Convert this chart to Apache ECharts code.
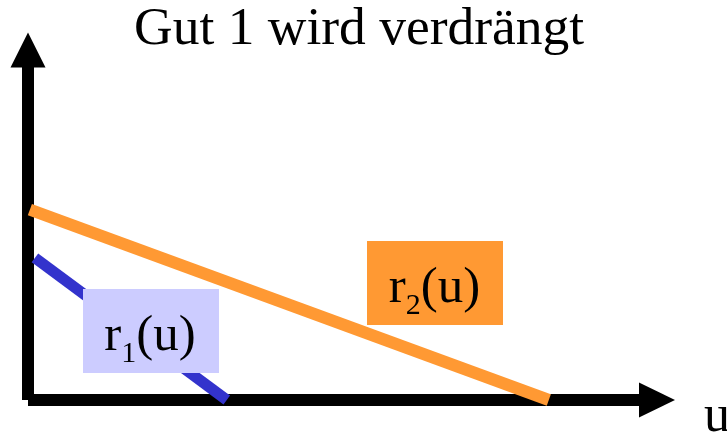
<!DOCTYPE html>
<html>
<head>
<meta charset="utf-8">
<script src="https://cdn.jsdelivr.net/npm/echarts@6/dist/echarts.min.js"></script>
<style>
html,body{margin:0;padding:0;background:#fff;}
#chart{width:727px;height:434px;}
</style>
</head>
<body>
<div id="chart"></div>
<script>
// Data (x: 0..100 along u-axis, y: 0..100 along vertical axis)
var titleText = 'Gut 1 wird verdrängt';
var xAxisName = 'u';
var r1Points = [[1.1, 40.6], [31.6, 0]];
var r2Points = [[0.3, 54.4], [82.8, 0]];
var r1Label = {main: 'r', sub: '1', rest: '(u)'};
var r2Label = {main: 'r', sub: '2', rest: '(u)'};

var serif = '"Liberation Serif", "Times New Roman", serif';

function richLabel(l) {
  return '{m|' + l.main + '}{s|' + l.sub + '}{m|' + l.rest + '}';
}
var richStyles = {
  m: {fontSize: 51, lineHeight: 50, verticalAlign: 'top', fontFamily: serif, fill: '#000'},
  s: {fontSize: 30, verticalAlign: 'top', padding: [28, 0, 0, 0], fontFamily: serif, fill: '#000'}
};

var chart = echarts.init(document.getElementById('chart'), null, {renderer: 'canvas'});
chart.setOption({
  animation: false,
  backgroundColor: '#fff',
  title: {
    text: titleText,
    left: 134,
    top: 3,
    padding: 0,
    textStyle: {fontFamily: serif, fontSize: 53.5, fontWeight: 'normal', color: '#000'}
  },
  grid: {left: 28, right: 70, top: 50, bottom: 34, containLabel: false, outerBoundsMode: 'none'},
  xAxis: {
    type: 'value', min: 0, max: 100,
    name: xAxisName, nameLocation: 'end', nameGap: 47,
    nameTextStyle: {fontFamily: serif, fontSize: 52, color: '#000', verticalAlign: 'top', lineHeight: 35},
    axisLine: {show: true, symbol: ['none', 'triangle'], symbolSize: [35, 36],
      lineStyle: {color: '#000', width: 12, cap: 'butt'}},
    axisTick: {show: false}, axisLabel: {show: false}, splitLine: {show: false}
  },
  yAxis: {
    type: 'value', min: 0, max: 100,
    axisLine: {show: true, symbol: ['none', 'triangle'], symbolSize: [35, 35],
      lineStyle: {color: '#000', width: 12, cap: 'butt'}},
    axisTick: {show: false}, axisLabel: {show: false}, splitLine: {show: false}
  },
  series: [
    {type: 'line', name: 'r2', data: r2Points, symbol: 'none', z: 3,
      lineStyle: {color: '#FF9933', width: 12, cap: 'butt'}},
    {type: 'line', name: 'r1', data: r1Points, symbol: 'none', z: 3,
      lineStyle: {color: '#3333CC', width: 11, cap: 'butt'}}
  ],
  graphic: [
    {type: 'rect', z: 100, shape: {x: 83, y: 289, width: 136, height: 84}, style: {fill: '#CCCCFF'}},
    {type: 'text', z: 101, x: 150, y: 311,
      style: {text: richLabel(r1Label), align: 'center', verticalAlign: 'top', rich: richStyles, font: '51px ' + serif}},
    {type: 'rect', z: 100, shape: {x: 367, y: 241, width: 136, height: 84}, style: {fill: '#FF9933'}},
    {type: 'text', z: 101, x: 434.5, y: 263,
      style: {text: richLabel(r2Label), align: 'center', verticalAlign: 'top', rich: richStyles, font: '51px ' + serif}}
  ]
});
</script>
</body>
</html>
